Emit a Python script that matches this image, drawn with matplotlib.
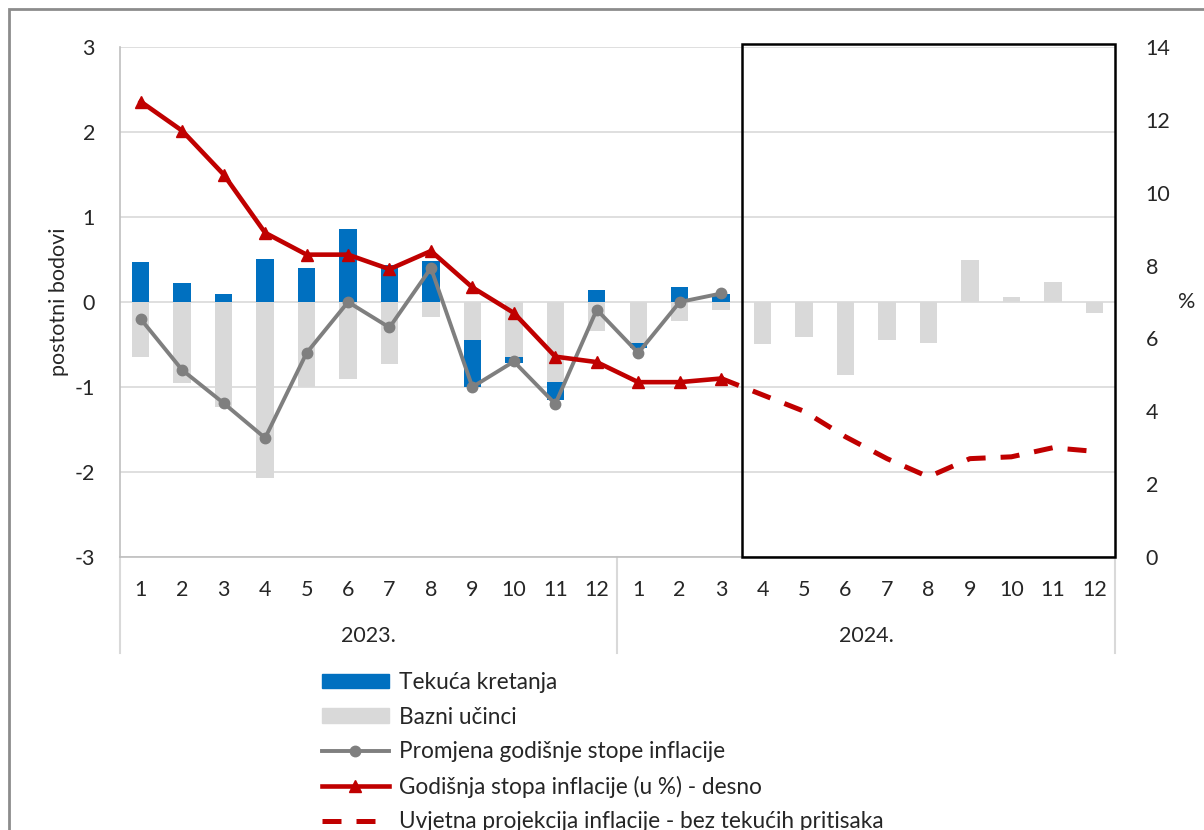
import numpy as np
import matplotlib.pyplot as plt
from matplotlib.patches import Rectangle, Patch
from matplotlib.lines import Line2D

plt.rcParams['font.family'] = ['Lato', 'DejaVu Sans']
plt.rcParams['axes.unicode_minus'] = False

## Data
months = [str(m) for m in range(1, 13)] * 2
years = ['2023.', '2024.']
# tekuca kretanja (pp), only through 2024 M3
tekuca = [0.47, 0.22, 0.09, 0.50, 0.40, 0.86, 0.43, 0.48, -0.55, -0.07, -0.21, 0.14,
          -0.06, 0.18, 0.09, 0, 0, 0, 0, 0, 0, 0, 0, 0]
# bazni ucinci (pp)
bazni = [-0.65, -0.95, -1.23, -2.07, -1.00, -0.91, -0.73, -0.18, -0.45, -0.65, -0.94, -0.34,
         -0.48, -0.22, -0.10, -0.49, -0.41, -0.86, -0.45, -0.48, 0.49, 0.06, 0.23, -0.13]
# promjena godisnje stope inflacije (pp)
promjena = [-0.2, -0.8, -1.19, -1.6, -0.6, 0.0, -0.3, 0.4, -1.0, -0.7, -1.2, -0.09,
            -0.6, 0.0, 0.1]
# godisnja stopa inflacije (%), right axis
stopa = [12.5, 11.7, 10.5, 8.9, 8.3, 8.3, 7.9, 8.4, 7.4, 6.7, 5.5, 5.35,
         4.8, 4.8, 4.9]
# uvjetna projekcija (%), from 2024 M3 to M12
projekcija = [4.9, 4.45, 4.0, 3.3, 2.7, 2.2, 2.7, 2.75, 3.0, 2.9]

blue = '#0070c0'
lgray = '#d9d9d9'
dgray = '#7f7f7f'
red = '#c00000'
tcol = '#262626'
fs = 15.5

x = np.arange(len(months))
tek = np.array(tekuca)
baz = np.array(bazni)
# Excel-style stacking: positive parts stack tekuca first, negative parts stack bazni first
tek_bottom = np.where(tek >= 0, 0, np.minimum(baz, 0))
baz_bottom = np.where(baz >= 0, np.maximum(tek, 0), 0)

fig = plt.figure(figsize=(12.04, 8.30), dpi=100)
ax = fig.add_axes([120/1204, 1-557/830, 995/1204, 510/830])
ax2 = ax.twinx()

ax.bar(x, baz, 0.42, bottom=baz_bottom, color=lgray, zorder=2)
ax.bar(x, tek, 0.42, bottom=tek_bottom, color=blue, zorder=2)
ax.plot(x[:len(promjena)], promjena, color=dgray, lw=2.8, marker='o', ms=7.5, zorder=3)

ax2.plot(x[:len(stopa)], stopa, color=red, lw=3.3, marker='^', ms=8.5, zorder=3)
xp = x[len(stopa)-1:len(stopa)-1+len(projekcija)]
ax2.plot(xp, projekcija, color=red, lw=3.6, dashes=(3.8, 3.0), zorder=3)

ax.set_xlim(-0.5, 23.5)
ax.set_ylim(-3, 3)
ax.set_yticks(range(-3, 4))
ax2.set_ylim(0, 14)
ax2.set_yticks(range(0, 15, 2))
ax.yaxis.grid(True, color=lgray, lw=1.2, zorder=0)
ax.set_axisbelow(True)
ax.set_xticks([])
ax.tick_params(axis='y', length=0, labelsize=fs, pad=18, labelcolor=tcol)
ax2.tick_params(axis='y', length=0, labelsize=fs, pad=22, labelcolor=tcol)

for a in (ax, ax2):
    for s in a.spines.values():
        s.set_visible(False)
for side in ('left', 'bottom'):
    ax.spines[side].set_visible(True)
    ax.spines[side].set_color('#bfbfbf')
    ax.spines[side].set_linewidth(1.2)

ax.set_ylabel('postotni bodovi', fontsize=fs, color=tcol, labelpad=4)
fig.text(1187/1204, 1-302/830, '%', fontsize=fs, color=tcol, ha='center', va='center')

# two-level category axis
tr = ax.get_xaxis_transform()
for i, m in enumerate(months):
    ax.text(i, -0.065, m, transform=tr, ha='center', va='center', fontsize=fs, color=tcol)
for j, y in enumerate(years):
    ax.text(5.5 + 12*j, -0.155, y, transform=tr, ha='center', va='center', fontsize=fs, color=tcol)
for xs in (-0.5, 11.5, 23.5):
    ax.plot([xs, xs], [0, -0.188], transform=tr, color=lgray, lw=1.5, clip_on=False)

# projection box
ax.add_patch(Rectangle((14.5, -3), 9, 6.03, fill=False, ec='black', lw=1.8, clip_on=False, zorder=5))

# outer chart frame
fig.add_artist(Rectangle((9/1204, -0.1), 1.2, 1.1 - 9/830, transform=fig.transFigure,
                         fill=False, ec='#8c8c8c', lw=2))

handles = [Patch(color=blue),
           Patch(color=lgray),
           Line2D([], [], color=dgray, lw=2.8, marker='o', ms=7.5),
           Line2D([], [], color=red, lw=3.3, marker='^', ms=8.5),
           Line2D([], [], color=red, lw=3.6, dashes=(3.8, 3.0))]
labels = ['Tekuća kretanja', 'Bazni učinci', 'Promjena godišnje stope inflacije',
          'Godišnja stopa inflacije (u %) - desno',
          'Uvjetna projekcija inflacije - bez tekućih pritisaka']
fig.legend(handles, labels, loc='upper left', bbox_to_anchor=(322/1204, 1-672/830),
           frameon=False, fontsize=16.3, handlelength=2.95, handleheight=0.6, handletextpad=0.45,
           labelspacing=0.6, labelcolor=tcol, borderaxespad=0, borderpad=0)

fig.savefig('out.png', dpi=100)
